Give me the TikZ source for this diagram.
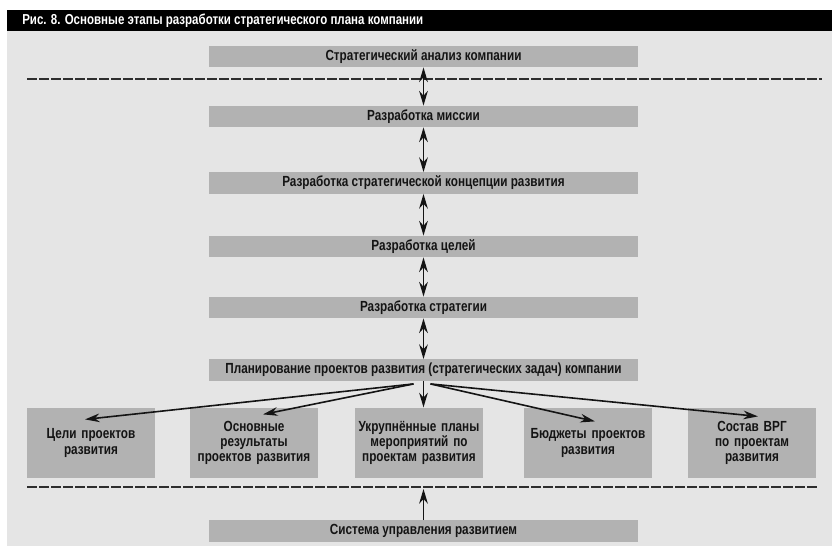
\documentclass[tikz,border=0pt]{standalone}
\usepackage{fontspec}
\setmainfont{Liberation Sans}[FakeStretch=0.8]
\usepackage{xcolor}
\usetikzlibrary{arrows.meta,positioning}
\definecolor{panel}{HTML}{E5E5E5}
\definecolor{stage}{HTML}{B2B2B2}
\definecolor{rule}{HTML}{2E2E2E}
\definecolor{ink}{HTML}{141414}

\tikzset{
  stagebar/.style={fill=stage, minimum width=322pt, minimum height=16pt, inner sep=0pt,
    text=ink, font=\bfseries\fontsize{11}{12}\selectfont},
  resultbox/.style={fill=stage, minimum width=96pt, minimum height=53pt, inner sep=0pt,
    text width=94pt, align=center, text=ink, font=\bfseries\fontsize{11}{11.5}\selectfont},
  link/.style={-{Stealth[length=11pt,width=6.5pt]}, line width=1.2pt, ink},
  twoway/.style={{Stealth[length=11pt,width=6.5pt]}-{Stealth[length=11pt,width=6.5pt]}, line width=1.2pt, ink},
  divider/.style={rule, line width=1.5pt, dash pattern=on 7.5pt off 1.5pt}
}

\begin{document}
\begin{tikzpicture}[x=0.75pt,y=-0.75pt]
  \useasboundingbox (0,0) rectangle (832,546);
  % panel and heading
  \fill[panel] (7,31) rectangle (832,546);
  \fill[black] (7,10) rectangle (832,31);
  \node[anchor=west, text=white, inner sep=0pt, font=\bfseries\fontsize{10.8}{12}\selectfont] (title) at (22,20.5)
    {Рис. 8. Основные этапы разработки стратегического плана компании};

  % stages
  \node[stagebar] (analysis) at (423.5,56.5) {Стратегический анализ компании};
  \node[stagebar] (mission)  at (423.5,116.5) {Разработка миссии};
  \node[stagebar] (concept)  at (423.5,183) {Разработка стратегической концепции развития};
  \node[stagebar] (goals)    at (423.5,246.5) {Разработка целей};
  \node[stagebar] (strategy) at (423.5,307.5) {Разработка стратегии};
  \node[stagebar] (planning) at (423.5,370) {Планирование проектов развития (стратегических задач) компании};

  % results
  \node[resultbox] (aims)    at (91,443)  {Цели проектов\\развития};
  \node[resultbox] (results) at (254,443) {Основные\\результаты\\проектов развития};
  \node[resultbox] (plans)   at (419,443) {Укрупнённые планы\\мероприятий по\\проектам развития};
  \node[resultbox] (budgets) at (588,443) {Бюджеты проектов\\развития};
  \node[resultbox] (staff)   at (752,443) {Состав ВРГ\\по проектам\\развития};

  \node[stagebar] (control) at (423.5,531) {Система управления развитием};

  % dividers
  \coordinate (topL) at (27,79);
  \coordinate (topR) at (822,79);
  \coordinate (botL) at (27,487);
  \coordinate (botR) at (818,487);
  \coordinate (botM) at (423.5,489);
  \draw[divider] (topL) -- (topR);
  \draw[divider] (botL) -- (botR);

  % connectors
  \draw[twoway] (analysis.south) -- (mission.north);
  \draw[twoway] (mission.south) -- (concept.north);
  \draw[twoway] (concept.south) -- (goals.north);
  \draw[twoway] (goals.south) -- (strategy.north);
  \draw[twoway] (strategy.south) -- (planning.north);

  \draw[link] ([shift={(-10,3)}]planning.south) -- ([shift={(-6,12)}]aims.north);
  \draw[link] ([shift={(-10,3)}]planning.south) -- ([shift={(9,7)}]results.north);
  \draw[link] (planning.south) -- (planning.south |- plans.north);
  \draw[link] ([shift={(7,3)}]planning.south) -- ([shift={(7,14)}]budgets.north);
  \draw[link] ([shift={(7,3)}]planning.south) -- ([shift={(6,9)}]staff.north);

  \draw[link] (control.north) -- (botM);
\end{tikzpicture}
\end{document}
